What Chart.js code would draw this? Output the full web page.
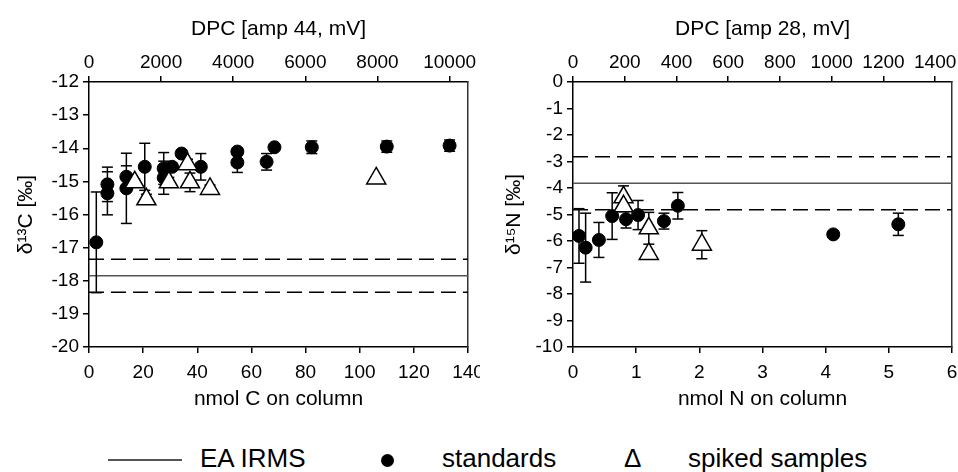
<!DOCTYPE html>
<html>
<head>
<meta charset="utf-8">
<script src="https://cdn.jsdelivr.net/npm/chart.js@4.4.1/dist/chart.umd.min.js"></script>
<style>
  body { margin: 0; background: #fff; width: 958px; height: 472px; position: relative; overflow: hidden;
         font-family: "Liberation Sans", Arial, sans-serif; }
  #left { position: absolute; left: 0; top: 0; }
  #right { position: absolute; left: 480px; top: 0; }
  .lg { position: absolute; font-size: 26px; line-height: 26px; color: #000; white-space: nowrap; }
</style>
</head>
<body>
<canvas id="left" width="480" height="420"></canvas>
<canvas id="right" width="478" height="420"></canvas>
<div id="legend">
  <div style="position:absolute;left:108px;top:459px;width:74px;border-top:2px solid #555"></div>
  <span class="lg" style="left:200px;top:445px">EA IRMS</span>
  <div style="position:absolute;left:381px;top:454px;width:13px;height:13px;border-radius:50%;background:#000"></div>
  <span class="lg" style="left:442px;top:445px">standards</span>
  <span class="lg" style="left:624px;top:445px">Δ</span>
  <span class="lg" style="left:688px;top:445px">spiked samples</span>
</div>
<script>
// carbon panel: nmol C on column vs d13C
const cStdX   = [2.7, 6.8, 6.8, 13.8, 13.8, 20.6, 27.6, 27.6, 30.7, 34.2, 41.3, 54.8, 54.8, 65.6, 68.5, 82.3, 110, 133.2];
const cStdY   = [-16.84, -15.09, -15.36, -14.86, -15.21, -14.56, -14.61, -14.89, -14.56, -14.16, -14.56, -14.10, -14.43, -14.41, -13.97, -13.97, -13.95, -13.92];
const cStdErr = [1.52, 0.52, 0.65, 0.33, 1.06, 0.71, 0.48, 0.5, 0.1, 0.1, 0.4, 0.1, 0.3, 0.25, 0.08, 0.19, 0.17, 0.17];
const cSpkX   = [16.9, 21.2, 29.5, 36.4, 37.3, 44.7, 106.1];
const cSpkY   = [-15.03, -15.54, -15.03, -14.48, -15.03, -15.23, -14.91];
const cSpkErr = [0.1, 0.15, 0.15, 0.15, 0.28, 0.12, 0.05];
const cRef = -17.85, cRefSd = 0.5;
const cTopTicks = [0, 2000, 4000, 6000, 8000, 10000];

// nitrogen panel: nmol N on column vs d15N
const nStdX   = [0.095, 0.2, 0.41, 0.62, 0.84, 1.03, 1.44, 1.66, 4.12, 5.15];
const nStdY   = [-5.81, -6.25, -5.96, -5.06, -5.18, -5.02, -5.25, -4.67, -5.75, -5.37];
const nStdErr = [1.03, 1.3, 0.66, 0.88, 0.33, 0.55, 0.3, 0.5, 0.05, 0.42];
const nSpkX   = [0.8, 0.8, 1.2, 1.2, 2.04];
const nSpkY   = [-4.35, -4.69, -5.52, -6.49, -6.14];
const nSpkErr = [0.43, 0.2, 0.6, 0.1, 0.53];
const nRef = -3.82, nRefSd = 1.0;
const nTopTicks = [0, 200, 400, 600, 800, 1000, 1200, 1400];

const tickFont = { family: "'Liberation Sans', Arial, sans-serif", size: 19 };
const titleFont = { family: "'Liberation Sans', Arial, sans-serif", size: 21 };

function pts(xs, ys) {
  return xs.map((x, i) => ({ x: x, y: ys[i] }));
}

// each error bar is a 2 point segment, broken by a null
function errs(xs, ys, es) {
  let out = [];
  xs.forEach((x, i) => {
    out.push({ x: x, y: ys[i] - es[i] }, { x: x, y: ys[i] + es[i] }, { x: x, y: null });
  });
  return out;
}

function hline(y, xMax, color, dash) {
  return { type: 'line', showLine: true, data: [{ x: 0, y: y }, { x: xMax, y: y }],
           borderColor: color, borderWidth: 1.5, borderDash: dash, pointRadius: 0, order: 3 };
}

function plain(v) { return String(v); }

// let the end labels run past the plot edge like the original
function noPad(s) { s.paddingLeft = 0; s.paddingRight = 0; }

function makeChart(id, o) {
  return new Chart(document.getElementById(id), {
    type: 'scatter',
    data: {
      datasets: [
        { data: pts(o.spkX, o.spkY), pointStyle: 'triangle', pointRadius: 11, pointHoverRadius: 11,
          backgroundColor: '#fff', borderColor: '#000', borderWidth: 1.5, order: 0 },
        { data: pts(o.stdX, o.stdY), pointStyle: 'circle', pointRadius: 6.5, pointHoverRadius: 6.5,
          backgroundColor: '#000', borderColor: '#000', order: 1 },
        { type: 'line', showLine: true, spanGaps: false, data: errs(o.spkX, o.spkY, o.spkErr),
          borderColor: '#000', borderWidth: 1.5, pointStyle: 'line', pointRadius: 5.5,
          pointBorderColor: '#000', pointBorderWidth: 1.5, order: 2 },
        { type: 'line', showLine: true, spanGaps: false, data: errs(o.stdX, o.stdY, o.stdErr),
          borderColor: '#000', borderWidth: 1.5, pointStyle: 'line', pointRadius: 5.5,
          pointBorderColor: '#000', pointBorderWidth: 1.5, order: 2 },
        hline(o.ref, o.xMax, '#555', []),
        hline(o.ref + o.sd, o.xMax, '#000', [15, 7]),
        hline(o.ref - o.sd, o.xMax, '#000', [15, 7])
      ]
    },
    options: {
      responsive: false,
      animation: false,
      events: [],
      layout: { padding: 0, autoPadding: false },
      plugins: { legend: { display: false }, tooltip: { enabled: false } },
      scales: {
        x: {
          type: 'linear', position: 'bottom', min: 0, max: o.xMax,
          ticks: { stepSize: o.xStep, font: tickFont, color: '#000', padding: 8, maxRotation: 0, callback: plain },
          grid: { drawOnChartArea: false, tickLength: 6, color: '#000', lineWidth: 1.5 },
          border: { color: '#000', width: 1.5 },
          title: { display: true, text: o.xTitle, font: titleFont, color: '#000', padding: { top: 0, bottom: 8 } },
          afterFit: s => { s.height = 420 - 347; noPad(s); }
        },
        x2: {
          type: 'linear', position: 'top', min: 0, max: o.topMax,
          ticks: { font: tickFont, color: '#000', padding: 2, maxRotation: 0, callback: plain },
          afterBuildTicks: s => { s.ticks = o.topTicks.map(v => ({ value: v })); },
          grid: { drawOnChartArea: false, tickLength: 6, color: '#000', lineWidth: 1.5 },
          border: { color: '#000', width: 1.5 },
          title: { display: true, text: o.topTitle, font: titleFont, color: '#000', padding: { top: 17, bottom: 0 } },
          afterFit: s => { s.height = 82; noPad(s); }
        },
        y: {
          type: 'linear', position: 'left', min: o.yMin, max: o.yMax,
          ticks: { stepSize: 1, font: tickFont, color: '#000', padding: 4, callback: plain },
          grid: { drawOnChartArea: false, tickLength: 6, color: '#000', lineWidth: 1.5 },
          border: { color: '#000', width: 1.5 },
          title: { display: true, text: o.yTitle, font: titleFont, color: '#000', padding: { top: o.yTitlePad, bottom: 0 } },
          afterFit: s => { s.width = o.leftW; }
        },
        y2: {
          type: 'linear', position: 'right', min: o.yMin, max: o.yMax,
          ticks: { display: false },
          grid: { display: false },
          border: { color: '#333', width: 1.5 },
          afterFit: s => { s.width = o.rightW; }
        }
      }
    }
  });
}

makeChart('left', {
  stdX: cStdX, stdY: cStdY, stdErr: cStdErr, spkX: cSpkX, spkY: cSpkY, spkErr: cSpkErr,
  ref: cRef, sd: cRefSd, topTicks: cTopTicks,
  xMax: 140, xStep: 20, topMax: 10510, yMin: -20, yMax: -12,
  xTitle: 'nmol C on column', topTitle: 'DPC [amp 44, mV]', yTitle: 'δ¹³C [‰]',
  leftW: 89, rightW: 12, yTitlePad: 14
});

makeChart('right', {
  stdX: nStdX, stdY: nStdY, stdErr: nStdErr, spkX: nSpkX, spkY: nSpkY, spkErr: nSpkErr,
  ref: nRef, sd: nRefSd, topTicks: nTopTicks,
  xMax: 6, xStep: 1, topMax: 1465, yMin: -10, yMax: 0,
  xTitle: 'nmol N on column', topTitle: 'DPC [amp 28, mV]', yTitle: 'δ¹⁵N [‰]',
  leftW: 93, rightW: 6, yTitlePad: 22
});
</script>
</body>
</html>
